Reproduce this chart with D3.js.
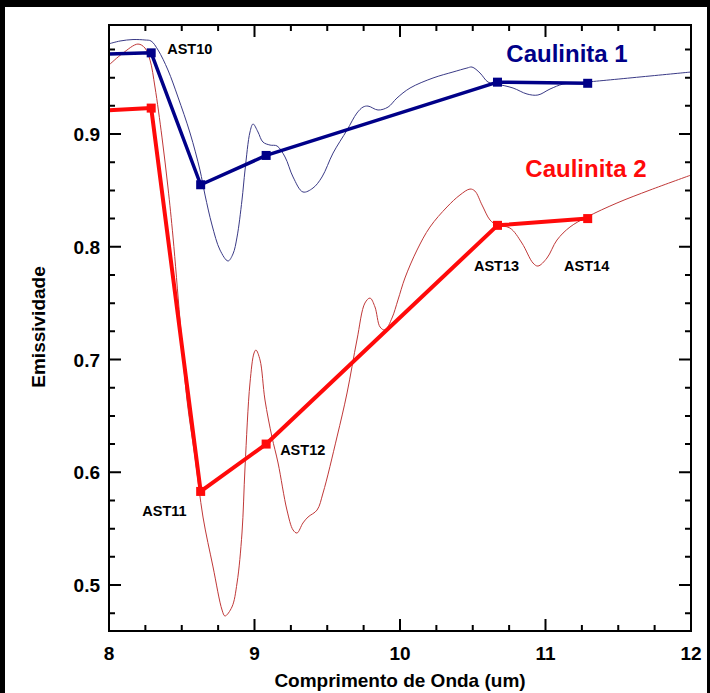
<!DOCTYPE html>
<html>
<head>
<meta charset="utf-8">
<script src="https://cdn.jsdelivr.net/npm/d3@7"></script>
<style>
  html, body { margin: 0; padding: 0; background: #000; }
  svg { display: block; }
  text { font-family: "Liberation Sans", Arial, Helvetica, sans-serif; font-weight: bold; }
</style>
</head>
<body>
<svg id="chart" width="710" height="693"></svg>
<script>
// Sample bands (µm) and their labels
const bandNames = ["AST10", "AST11", "AST12", "AST13", "AST14"];
const bandCenters = [8.29, 8.63, 9.08, 10.67, 11.29];

// Band-averaged emissivity (thick lines with markers); first value is the 8 µm edge
const caulinita1Bands = [0.971, 0.972, 0.855, 0.881, 0.946, 0.945];
const caulinita2Bands = [0.921, 0.923, 0.583, 0.625, 0.819, 0.825];
const bandLineX = [8.0, 8.29, 8.63, 9.08, 10.67, 11.29];

// Laboratory spectra (thin lines)
const spec1X = [8.000, 8.076, 8.165, 8.247, 8.289, 8.337, 8.405, 8.474, 8.557, 8.625, 8.660, 8.708, 8.763, 8.818, 8.852, 8.880, 8.914, 8.935, 8.969, 8.990, 9.024, 9.058, 9.107, 9.155, 9.210, 9.265, 9.333, 9.402, 9.464, 9.540, 9.636, 9.704, 9.746, 9.780, 9.849, 9.918, 9.979, 10.069, 10.227, 10.364, 10.460, 10.495, 10.550, 10.605, 10.667, 10.777, 10.873, 10.948, 11.031, 11.120, 11.203, 11.285, 12.000];
const spec1Y = [0.980, 0.9825, 0.9838, 0.9834, 0.9825, 0.9745, 0.9568, 0.9328, 0.9009, 0.8681, 0.8459, 0.8193, 0.7971, 0.7874, 0.7936, 0.8086, 0.8415, 0.8681, 0.9018, 0.9089, 0.9018, 0.8929, 0.8902, 0.8894, 0.8796, 0.8619, 0.8486, 0.8521, 0.8619, 0.8831, 0.9035, 0.9186, 0.9239, 0.9248, 0.9213, 0.9239, 0.9319, 0.9408, 0.9497, 0.9550, 0.9585, 0.9594, 0.9541, 0.9461, 0.9443, 0.9408, 0.9355, 0.9346, 0.9399, 0.9443, 0.9452, 0.9461, 0.955];

const spec2X = [8.000, 8.096, 8.199, 8.247, 8.282, 8.316, 8.364, 8.405, 8.440, 8.488, 8.536, 8.591, 8.646, 8.715, 8.777, 8.797, 8.845, 8.880, 8.914, 8.935, 8.969, 8.997, 9.010, 9.038, 9.072, 9.120, 9.162, 9.223, 9.265, 9.292, 9.333, 9.368, 9.430, 9.471, 9.567, 9.636, 9.704, 9.759, 9.794, 9.828, 9.863, 9.897, 9.945, 9.986, 10.034, 10.117, 10.206, 10.323, 10.412, 10.481, 10.515, 10.564, 10.619, 10.667, 10.756, 10.838, 10.914, 10.948, 11.010, 11.079, 11.168, 11.285, 11.491, 11.718, 12.000];
const spec2Y = [0.9612, 0.9718, 0.9798, 0.9763, 0.9656, 0.9417, 0.8973, 0.8530, 0.8086, 0.7350, 0.6641, 0.6135, 0.5603, 0.5160, 0.4778, 0.4725, 0.4805, 0.5018, 0.5461, 0.6047, 0.6792, 0.7058, 0.7084, 0.6996, 0.6641, 0.6313, 0.6082, 0.5665, 0.5488, 0.5461, 0.5550, 0.5603, 0.5665, 0.5816, 0.6313, 0.6703, 0.7173, 0.7501, 0.7545, 0.7466, 0.7288, 0.7262, 0.7368, 0.7528, 0.7723, 0.7971, 0.8175, 0.8353, 0.8459, 0.8512, 0.8494, 0.8370, 0.8237, 0.8193, 0.8166, 0.8033, 0.7856, 0.7829, 0.7900, 0.8060, 0.8175, 0.8264, 0.8388, 0.8503, 0.8636];

// Axis ticks
const xMajorTicks = [8, 9, 10, 11, 12];
const yMajorTicks = [0.5, 0.6, 0.7, 0.8, 0.9];
const xTickLabels = ["8", "9", "10", "11", "12"];
const yTickLabels = ["0.5", "0.6", "0.7", "0.8", "0.9"];

const seriesNames = ["Caulinita 1", "Caulinita 2"];
const xTitle = "Comprimento de Onda (um)";
const yTitle = "Emissividade";

// ---- drawing ----
const svg = d3.select("#chart");
const W = 710, H = 693;
const plot = { left: 109, right: 691, top: 25, bottom: 631 };

svg.append("rect").attr("x", 0).attr("y", 0).attr("width", W).attr("height", H).attr("fill", "#000");
svg.append("rect").attr("x", 5).attr("y", 7).attr("width", 702).attr("height", H - 7).attr("fill", "#fff");

const x = d3.scaleLinear().domain([8, 12]).range([plot.left, plot.right]);
const y = d3.scaleLinear().domain([0.4592, 0.9967]).range([plot.bottom, plot.top]);

const colBlue = "#000088";
const colRed = "#ff0a0a";

svg.append("clipPath").attr("id", "clip").append("rect")
  .attr("x", plot.left).attr("y", plot.top)
  .attr("width", plot.right - plot.left).attr("height", plot.bottom - plot.top);

const g = svg.append("g").attr("clip-path", "url(#clip)");
const line = d3.line().x(d => x(d[0])).y(d => y(d[1]));
const smooth = d3.line().x(d => x(d[0])).y(d => y(d[1])).curve(d3.curveCatmullRom.alpha(0.5));

// thin spectra
g.append("path").datum(d3.zip(spec2X, spec2Y))
  .attr("d", smooth).attr("fill", "none").attr("stroke", "#c03838").attr("stroke-width", 1);
g.append("path").datum(d3.zip(spec1X, spec1Y))
  .attr("d", smooth).attr("fill", "none").attr("stroke", "#3a3a86").attr("stroke-width", 1);

// band-averaged lines
function bandSeries(vals, color, width) {
  const pts = d3.zip(bandLineX, vals);
  g.append("path").datum(pts)
    .attr("d", line).attr("fill", "none").attr("stroke", color)
    .attr("stroke-width", width).attr("stroke-linejoin", "round");
  const s = 9;
  g.selectAll(null).data(pts.slice(1)).enter().append("rect")
    .attr("x", d => x(d[0]) - s / 2).attr("y", d => y(d[1]) - s / 2)
    .attr("width", s).attr("height", s).attr("fill", color);
}
bandSeries(caulinita2Bands, colRed, 4);
bandSeries(caulinita1Bands, colBlue, 3.5);

// frame and ticks (inward, all four sides)
const axisG = svg.append("g");
axisG.append("rect").attr("x", plot.left).attr("y", plot.top)
  .attr("width", plot.right - plot.left).attr("height", plot.bottom - plot.top)
  .attr("fill", "none").attr("stroke", "#000").attr("stroke-width", 2);

const xMinor = d3.range(8, 12.001, 0.25).filter(v => Math.abs(v - Math.round(v)) > 1e-6);
const yMinor = d3.range(0.475, 0.9967, 0.025).filter(v => Math.abs(v * 10 - Math.round(v * 10)) > 1e-6);
const MAJ = 12, MIN = 6;

function tickPath(v, len, horiz) {
  if (horiz) {
    const px = x(v);
    return `M${px},${plot.bottom}v${-len}M${px},${plot.top}v${len}`;
  } else {
    const py = y(v);
    return `M${plot.left},${py}h${len}M${plot.right},${py}h${-len}`;
  }
}
const tickD = []
  .concat(xMajorTicks.slice(1, -1).map(v => tickPath(v, MAJ, true)))
  .concat(xMinor.map(v => tickPath(v, MIN, true)))
  .concat(yMajorTicks.map(v => tickPath(v, MAJ, false)))
  .concat(yMinor.map(v => tickPath(v, MIN, false)));
axisG.append("path").attr("d", tickD.join("")).attr("stroke", "#000").attr("stroke-width", 2).attr("fill", "none");

// tick labels
axisG.selectAll(null).data(xMajorTicks).enter().append("text")
  .attr("x", d => x(d)).attr("y", 660).attr("text-anchor", "middle")
  .attr("font-size", 19).attr("fill", "#000")
  .text((d, i) => xTickLabels[i]);
axisG.selectAll(null).data(yMajorTicks).enter().append("text")
  .attr("x", 100).attr("y", d => y(d) + 7).attr("text-anchor", "end")
  .attr("font-size", 19).attr("fill", "#000")
  .text((d, i) => yTickLabels[i]);

// axis titles
svg.append("text").attr("x", (plot.left + plot.right) / 2).attr("y", 687)
  .attr("text-anchor", "middle").attr("font-size", 19).text(xTitle);
svg.append("text").attr("transform", "translate(45,327) rotate(-90)")
  .attr("text-anchor", "middle").attr("font-size", 19).text(yTitle);

// band labels: anchored to a marker with a pixel offset
const labelSeries = [caulinita1Bands, caulinita2Bands, caulinita2Bands, caulinita2Bands, caulinita2Bands];
const labelAnchor = ["start", "end", "start", "middle", "middle"];
const labelDx = [16, -14, 14, -1, -1];
const labelDy = [1, 25, 11, 46, 52];
svg.selectAll(null).data(bandNames).enter().append("text")
  .attr("x", (d, i) => x(bandCenters[i]) + labelDx[i])
  .attr("y", (d, i) => y(labelSeries[i][i + 1]) + labelDy[i])
  .attr("text-anchor", (d, i) => labelAnchor[i])
  .attr("font-size", 14.5).attr("fill", "#000")
  .text(d => d);

// series names
svg.append("text").attr("x", 567).attr("y", 62).attr("text-anchor", "middle")
  .attr("font-size", 24).attr("fill", colBlue).text(seriesNames[0]);
svg.append("text").attr("x", 586).attr("y", 177).attr("text-anchor", "middle")
  .attr("font-size", 24).attr("fill", colRed).text(seriesNames[1]);
</script>
</body>
</html>
